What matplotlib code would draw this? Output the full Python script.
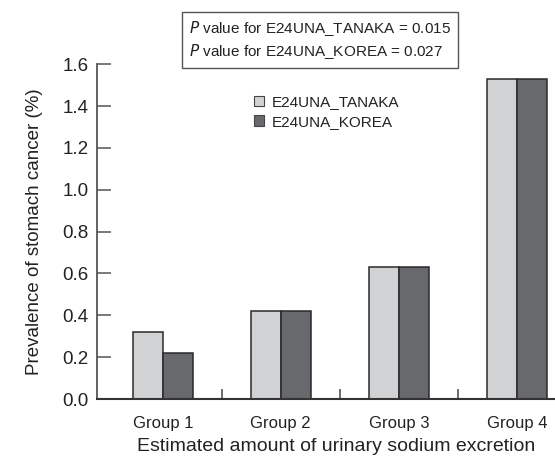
import numpy as np
import matplotlib
matplotlib.use('Agg')
import matplotlib.pyplot as plt
from matplotlib.patches import Patch

plt.rcParams['font.family'] = ['Liberation Sans Narrow', 'Liberation Sans', 'DejaVu Sans']

groups = ['Group 1', 'Group 2', 'Group 3', 'Group 4']
tanaka = [0.32, 0.42, 0.63, 1.53]
korea = [0.22, 0.42, 0.63, 1.53]
series_names = ['E24UNA_TANAKA', 'E24UNA_KOREA']
p_values = ['0.015', '0.027']
yticks = [0.0, 0.2, 0.4, 0.6, 0.8, 1.0, 1.2, 1.4, 1.6]

light = '#d1d2d4'
dark = '#68696d'
edge = '#2a2a2a'
txt = '#222222'

fig = plt.figure(figsize=(5.55, 4.61), dpi=100)
# axes runs past the right edge like the cropped original
ax = fig.add_axes([96.7 / 555, 62 / 461, 505 / 555, 334.7 / 461])

x = np.arange(len(groups))
w = 0.255
ax.bar(x - w / 2, tanaka, w, color=light, edgecolor=edge, linewidth=1.1)
ax.bar(x + w / 2, korea, w, color=dark, edgecolor=edge, linewidth=1.1)

ax.set_xlim(-0.56, -0.56 + 505 / 118)
ax.set_ylim(0, 1.6)

for s in ['top', 'right']:
    ax.spines[s].set_visible(False)
ax.spines['left'].set_color('#555555')
ax.spines['left'].set_linewidth(1.3)
ax.spines['bottom'].set_color('#333333')
ax.spines['bottom'].set_linewidth(1.5)

ax.set_yticks(yticks)
ax.set_yticklabels([f'{v:.1f}' for v in yticks], fontsize=13.5, color=txt)
ax.tick_params(axis='y', direction='in', length=10, width=1.1, color='#555555', pad=6)

ax.set_xticks(x)
ax.set_xticklabels(groups, fontsize=12, color=txt)
ax.tick_params(axis='x', which='major', length=0, pad=12)
ax.set_xticks(x[:-1] + 0.5, minor=True)
ax.tick_params(axis='x', which='minor', direction='in', length=7, width=1.1, color='#444444')

ax.set_ylabel('Prevalence of stomach cancer (%)', fontsize=13.5, color=txt, labelpad=14)
fig.text(336 / 555, 1 - 446 / 461, 'Estimated amount of urinary sodium excretion',
         fontsize=14, color=txt, ha='center', va='center')

handles = [Patch(facecolor=light, edgecolor='#444444', linewidth=0.8),
           Patch(facecolor=dark, edgecolor='#444444', linewidth=0.8)]
leg = fig.legend(handles, series_names, loc='center left',
                 bbox_to_anchor=(246 / 555, 1 - 112 / 461), frameon=False,
                 fontsize=11, handlelength=0.7, handleheight=0.7,
                 handletextpad=0.5, labelspacing=0.35, borderpad=0)
for t in leg.get_texts():
    t.set_color(txt)

ptext = '\n'.join(f'$\\it{{P}}$ value for {n} = {p}' for n, p in zip(series_names, p_values))
fig.text(320 / 555, 1 - 40 / 461, ptext, fontsize=11, color=txt, ha='center', va='center',
         multialignment='left', linespacing=1.25,
         bbox=dict(boxstyle='square,pad=0.45', facecolor='white', edgecolor='#555555', linewidth=1.0))

fig.savefig('out.png', dpi=100)
